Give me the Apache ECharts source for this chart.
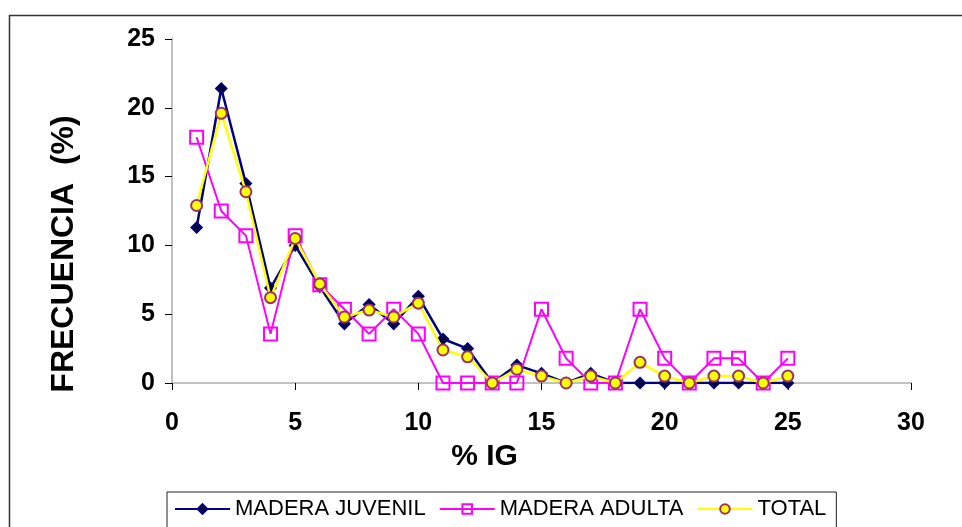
<!DOCTYPE html>
<html>
<head>
<meta charset="utf-8">
<script src="https://cdn.jsdelivr.net/npm/echarts@6/dist/echarts.min.js"></script>
<style>
  html, body { margin: 0; padding: 0; background: #fff; }
  #chart { width: 962px; height: 527px; }
</style>
</head>
<body>
<div id="chart"></div>
<script>
// % IG classes (x) and frequency (%) per wood type
const igClasses = [1, 2, 3, 4, 5, 6, 7, 8, 9, 10, 11, 12, 13, 14, 15, 16, 17, 18, 19, 20, 21, 22, 23, 24, 25];
const maderaJuvenil = [11.3, 21.4, 14.5, 6.9, 10.0, 7.0, 4.3, 5.7, 4.3, 6.3, 3.2, 2.5, 0, 1.3, 0.7, 0, 0.7, 0, 0, 0, 0, 0, 0, 0, 0];
const maderaAdulta = [17.86, 12.50, 10.71, 3.57, 10.71, 7.14, 5.36, 3.57, 5.36, 3.57, 0, 0, 0, 0, 5.36, 1.79, 0, 0, 5.36, 1.79, 0, 1.79, 1.79, 0, 1.79];
const total = [12.9, 19.6, 13.9, 6.2, 10.5, 7.2, 4.8, 5.3, 4.8, 5.8, 2.4, 1.9, 0, 1.0, 0.5, 0, 0.5, 0, 1.5, 0.5, 0, 0.5, 0.5, 0, 0.5];
const seriesNames = ['MADERA JUVENIL', 'MADERA ADULTA', 'TOTAL'];

const xTicks = { min: 0, max: 30, interval: 5 };
const yTicks = { min: 0, max: 25, interval: 5 };

const pairs = (ys) => igClasses.map((x, i) => [x, ys[i]]);
const FONT = '"Liberation Sans", Arial, sans-serif';

const chart = echarts.init(document.getElementById('chart'), null, { renderer: 'canvas' });

chart.setOption({
  animation: false,
  backgroundColor: '#ffffff',
  textStyle: { fontFamily: FONT },
  grid: { left: 172, top: 39, right: 51, bottom: 144, show: false },
  graphic: [{
    type: 'rect',
    shape: { x: 9.5, y: 15.5, width: 1000, height: 600 },
    style: { fill: 'none', stroke: '#333', lineWidth: 1.5 },
    silent: true, z: -1
  }],
  legend: {
    left: 167, top: 492,
    padding: [6, 10, 40, 7],
    itemGap: 13,
    itemWidth: 55, itemHeight: 12,
    borderColor: '#222', borderWidth: 1,
    textStyle: { fontFamily: FONT, fontSize: 22, color: '#000' },
    data: seriesNames
  },
  xAxis: [{
    type: 'value', min: xTicks.min, max: xTicks.max, interval: xTicks.interval,
    name: '% IG', nameLocation: 'middle', nameGap: 59,
    nameTextStyle: { fontFamily: FONT, fontSize: 30, fontWeight: 'bold', color: '#000', padding: [0, 114, 0, 0] },
    axisLine: { show: true, onZero: false, lineStyle: { color: '#000', width: 1 } },
    axisTick: { show: true, length: 7, lineStyle: { color: '#000' } },
    axisLabel: { margin: 28, fontFamily: FONT, fontSize: 25, fontWeight: 'bold', color: '#000' },
    splitLine: { show: false }
  }, {
    type: 'value', position: 'top', min: xTicks.min, max: xTicks.max,
    axisLine: { show: true, lineStyle: { color: '#c0c0c0', width: 2 } },
    axisTick: { show: false }, axisLabel: { show: false }, splitLine: { show: false }
  }],
  yAxis: [{
    type: 'value', min: yTicks.min, max: yTicks.max, interval: yTicks.interval,
    name: 'FRECUENCIA  (%)', nameLocation: 'middle', nameGap: 92, nameRotate: 90,
    nameTextStyle: { fontFamily: FONT, fontSize: 32, fontWeight: 'bold', color: '#000', padding: [0, 86, 0, 0] },
    axisLine: { show: true, onZero: false, lineStyle: { color: '#000', width: 1 } },
    axisTick: { show: true, length: 7, lineStyle: { color: '#000' } },
    axisLabel: { margin: 17, fontFamily: FONT, fontSize: 25, fontWeight: 'bold', color: '#000' },
    splitLine: { show: false }
  }, {
    type: 'value', position: 'right', min: yTicks.min, max: yTicks.max,
    axisLine: { show: true, lineStyle: { color: '#c0c0c0', width: 2 } },
    axisTick: { show: false }, axisLabel: { show: false }, splitLine: { show: false }
  }],
  series: [{
    name: seriesNames[0], type: 'line', data: pairs(maderaJuvenil), z: 2,
    symbol: 'diamond', symbolSize: [11, 11],
    lineStyle: { color: '#000080', width: 2.5 },
    itemStyle: { color: '#000040', borderColor: '#000080', borderWidth: 1.5 }
  }, {
    name: seriesNames[1], type: 'line', data: pairs(maderaAdulta), z: 3,
    symbol: 'rect', symbolSize: 13,
    lineStyle: { color: '#ff00ff', width: 2 },
    itemStyle: { color: 'rgba(255,255,255,0)', borderColor: '#ff00ff', borderWidth: 2 }
  }, {
    name: seriesNames[2], type: 'line', data: pairs(total), z: 4,
    symbol: 'circle', symbolSize: 11,
    lineStyle: { color: '#ffff00', width: 2.5 },
    itemStyle: { color: '#ffff00', borderColor: '#993366', borderWidth: 2 }
  }]
});
</script>
</body>
</html>
